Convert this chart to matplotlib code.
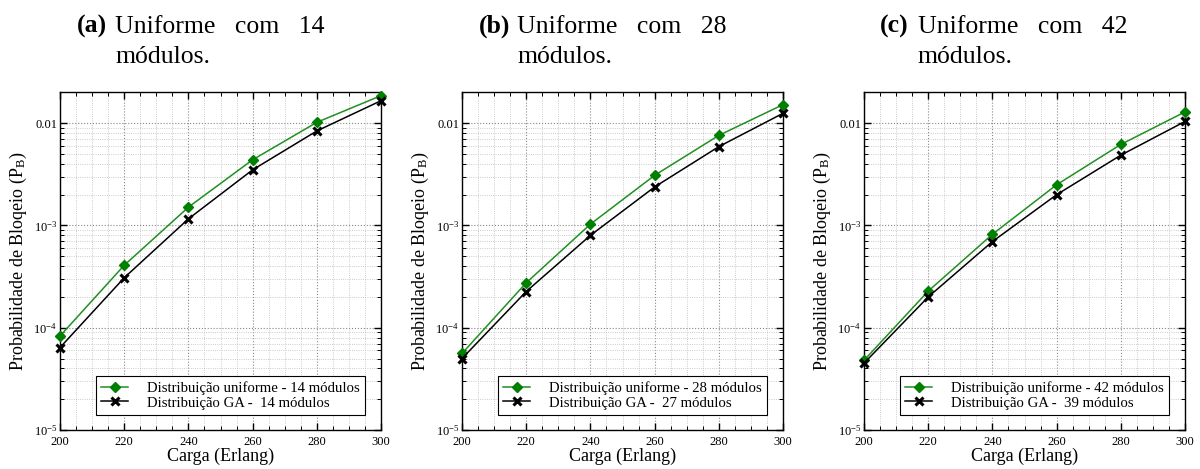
import math
import matplotlib
matplotlib.use('Agg')
import matplotlib.pyplot as plt
from matplotlib.ticker import FixedLocator, LogLocator, FuncFormatter, NullFormatter, MultipleLocator

plt.rcParams['font.family'] = ['Liberation Serif', 'DejaVu Serif']
plt.rcParams['mathtext.fontset'] = 'custom'
plt.rcParams['mathtext.rm'] = 'Liberation Serif'
plt.rcParams['mathtext.it'] = 'Liberation Serif:italic'

carga = [200, 220, 240, 260, 280, 300]

uniforme_14 = [8.3e-5, 4.08e-4, 1.51e-3, 4.39e-3, 1.02e-2, 1.86e-2]
ga_14 = [6.4e-5, 3.08e-4, 1.16e-3, 3.5e-3, 8.4e-3, 1.66e-2]

uniforme_28 = [5.6e-5, 2.75e-4, 1.03e-3, 3.09e-3, 7.6e-3, 1.52e-2]
ga_27 = [5.0e-5, 2.26e-4, 8.0e-4, 2.38e-3, 5.9e-3, 1.25e-2]

uniforme_42 = [4.8e-5, 2.28e-4, 8.2e-4, 2.5e-3, 6.2e-3, 1.29e-2]
ga_39 = [4.5e-5, 2.0e-4, 6.96e-4, 2.0e-3, 4.87e-3, 1.04e-2]

panels = [
    ('(a)', '14', uniforme_14, ga_14, 'Distribuição uniforme - 14 módulos', 'Distribuição GA -  14 módulos'),
    ('(b)', '28', uniforme_28, ga_27, 'Distribuição uniforme - 28 módulos', 'Distribuição GA -  27 módulos'),
    ('(c)', '42', uniforme_42, ga_39, 'Distribuição uniforme - 42 módulos', 'Distribuição GA -  39 módulos'),
]

W, H = 1200, 469
fig = plt.figure(figsize=(12, 4.69), dpi=100)

axes_left = [60, 462, 864]
axes_w = 321
axes_top, axes_bot = 92, 430


def ytick_fmt(v, pos):
    if abs(v - 0.01) < 1e-9:
        return '0.01'
    e = int(round(math.log10(v)))
    return r'$10^{%d}$' % e


for i, (tag, n, uni, ga, lab_u, lab_g) in enumerate(panels):
    x0 = axes_left[i]
    ax = fig.add_axes([x0 / W, 1 - axes_bot / H, axes_w / W, (axes_bot - axes_top) / H])
    ax.set_yscale('log')
    ax.plot(carga, uni, color='#209020', marker='D', ms=5.5, lw=1.1, mfc='#008000', mec='#008000',
            label=lab_u, clip_on=False, zorder=4)
    ax.plot(carga, ga, color='black', marker='x', ms=5.5, mew=2.2, lw=1.1,
            label=lab_g, clip_on=False, zorder=4)
    ax.set_xlim(200, 300)
    ax.set_ylim(1e-5, 0.0202)
    ax.xaxis.set_major_locator(MultipleLocator(20))
    ax.xaxis.set_minor_locator(MultipleLocator(5))
    ax.yaxis.set_major_locator(FixedLocator([1e-5, 1e-4, 1e-3, 1e-2]))
    ax.yaxis.set_minor_locator(LogLocator(base=10, subs=range(2, 10), numticks=20))
    ax.yaxis.set_major_formatter(FuncFormatter(ytick_fmt))
    ax.yaxis.set_minor_formatter(NullFormatter())
    ax.tick_params(which='both', direction='in', top=True, right=True, labelsize=9)
    ax.tick_params(which='major', length=5, width=1)
    ax.tick_params(which='minor', length=3, width=0.7)
    ax.tick_params(axis='x', which='major', pad=4)
    ax.tick_params(axis='y', which='major', pad=2)
    ax.grid(True, which='major', color='#888888', ls=':', lw=0.8)
    ax.grid(True, which='minor', color='#bbbbbb', ls=':', lw=0.6)
    for s in ax.spines.values():
        s.set_linewidth(1.0)
    ax.set_xlabel('Carga (Erlang)', fontsize=13, labelpad=0)
    ax.set_ylabel(r'Probabilidade de Bloqeio (P$_\mathrm{B}$)', fontsize=13, labelpad=3)
    leg = ax.legend(loc='lower right', bbox_to_anchor=(0.95, 0.045), fontsize=10.6,
                    fancybox=False, framealpha=1, edgecolor='black',
                    borderpad=0.35, labelspacing=0.1, handlelength=1.8,
                    handletextpad=1.3, borderaxespad=0)
    leg.get_frame().set_linewidth(0.8)

    tx = [77, 479, 880][i]
    fig.text(tx / W, 1 - 33 / H, tag, fontsize=18.5, fontweight='bold', va='baseline', ha='left')
    fig.text((tx + 38) / W, 1 - 33 / H, 'Uniforme   com   ' + n, fontsize=18.5, va='baseline', ha='left')
    fig.text((tx + 38) / W, 1 - 63 / H, 'módulos.', fontsize=18.5, va='baseline', ha='left')

fig.savefig('out.png', dpi=100)
